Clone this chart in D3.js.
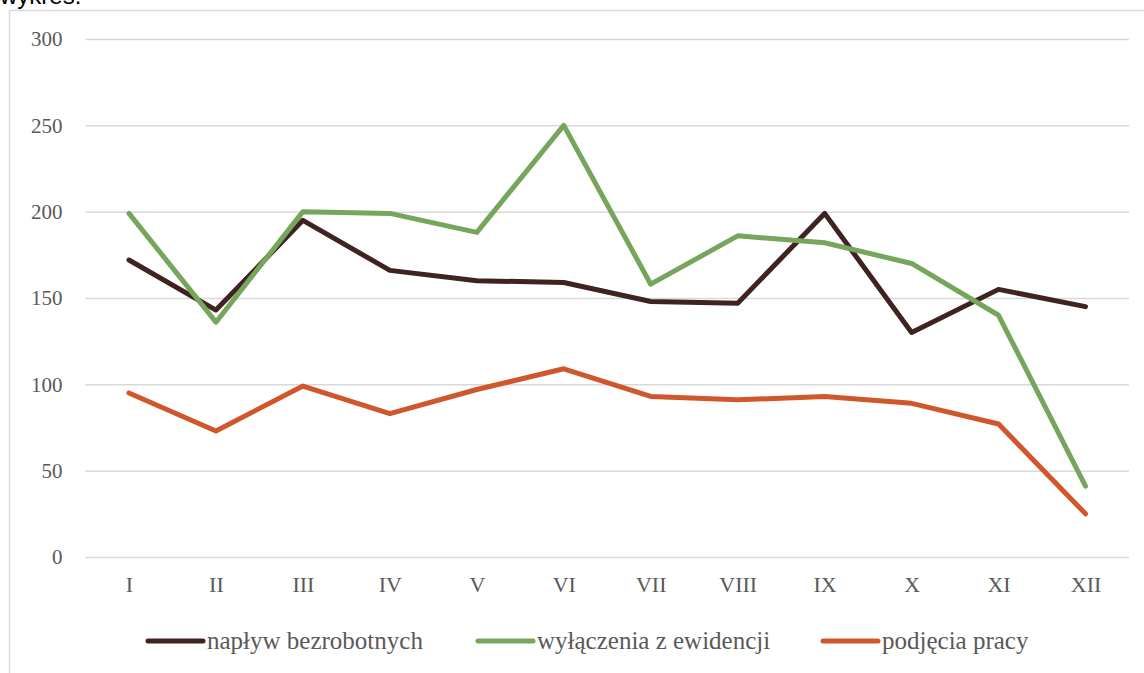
<!DOCTYPE html>
<html>
<head>
<meta charset="utf-8">
<script src="https://cdn.jsdelivr.net/npm/d3@7"></script>
<style>
  body { margin: 0; background: #fff; }
  svg { display: block; }
  .tick text { font-family: "Liberation Serif", "DejaVu Serif", serif; fill: #595959; }
</style>
</head>
<body>
<div class="plot"></div>
<script>
// months and series values
const months = ["I", "II", "III", "IV", "V", "VI", "VII", "VIII", "IX", "X", "XI", "XII"];
const naplyw = [172, 143, 195, 166, 160, 159, 148, 147, 199, 130, 155, 145];
const wylaczenia = [199, 136, 200, 199, 188, 250, 158, 186, 182, 170, 140, 41];
const podjecia = [95, 73, 99, 83, 97, 109, 93, 91, 93, 89, 77, 25];
const seriesNames = ["napływ bezrobotnych", "wyłączenia z ewidencji", "podjęcia pracy"];
const yTicks = [0, 50, 100, 150, 200, 250, 300];

const colors = ["#3f2320", "#75a65b", "#d0562c"];
const series = [naplyw, wylaczenia, podjecia];

const W = 1144, H = 673;
const margin = {top: 39, right: 15, bottom: 116, left: 85.5};
const w = W - margin.left - margin.right;
const h = H - margin.top - margin.bottom;

const svg = d3.select(".plot")
    .append("svg")
        .attr("width", W)
        .attr("height", H);

// chart frame (only top and left edge visible)
svg.append("path")
    .attr("d", "M9.5,673 V10.5 H1144")
    .attr("fill", "none")
    .attr("stroke", "#d9d9d9")
    .attr("stroke-width", 1.5);

// title, cut off by the top edge like in the source
svg.append("text")
    .attr("x", 0)
    .attr("y", 4)
    .style("font-family", "Liberation Sans, Arial, sans-serif")
    .style("font-size", "24px")
    .attr("fill", "#000")
    .text("wykres:");

const g = svg.append("g")
    .attr("transform", "translate(" + margin.left + "," + margin.top + ")");

const x = d3.scalePoint()
    .domain(months)
    .range([0, w])
    .padding(0.5);

const y = d3.scaleLinear()
    .domain([0, 300])
    .range([h, 0]);

// gridlines + y labels
const yAxis = d3.axisLeft(y)
    .tickValues(yTicks)
    .tickSize(-w)
    .tickPadding(23)
    .tickFormat(d3.format("d"));

g.append("g")
    .attr("class", "y-axis")
    .call(yAxis)
    .call(s => s.select(".domain").remove())
    .call(s => s.selectAll(".tick line").attr("stroke", "#d9d9d9").attr("stroke-width", 1.5))
    .call(s => s.selectAll(".tick text").style("font-size", "21px"));

// x labels
const xAxis = d3.axisBottom(x)
    .tickSize(0)
    .tickPadding(19);

g.append("g")
    .attr("class", "x-axis")
    .attr("transform", "translate(0," + h + ")")
    .call(xAxis)
    .call(s => s.select(".domain").remove())
    .call(s => s.selectAll(".tick text").style("font-size", "22px"));

// lines
const line = d3.line()
    .x((d, i) => x(months[i]))
    .y(d => y(d));

g.selectAll(".series")
    .data(series)
    .enter()
    .append("path")
        .attr("class", "series")
        .attr("d", line)
        .attr("fill", "none")
        .attr("stroke", (d, i) => colors[i])
        .attr("stroke-width", 5)
        .attr("stroke-linecap", "round")
        .attr("stroke-linejoin", "round");

// legend
const legendX = [148, 478, 823];
const legend = svg.append("g")
    .attr("transform", "translate(0,641)");

const items = legend.selectAll("g")
    .data(seriesNames)
    .enter()
    .append("g")
        .attr("transform", (d, i) => "translate(" + legendX[i] + ",0)");

items.append("line")
    .attr("x1", 0)
    .attr("x2", 55)
    .attr("stroke", (d, i) => colors[i])
    .attr("stroke-width", 5)
    .attr("stroke-linecap", "round");

items.append("text")
    .attr("x", 59)
    .attr("y", 8)
    .style("font-family", "Liberation Serif, DejaVu Serif, serif")
    .style("font-size", "25px")
    .attr("fill", "#595959")
    .text(d => d);
</script>
</body>
</html>
